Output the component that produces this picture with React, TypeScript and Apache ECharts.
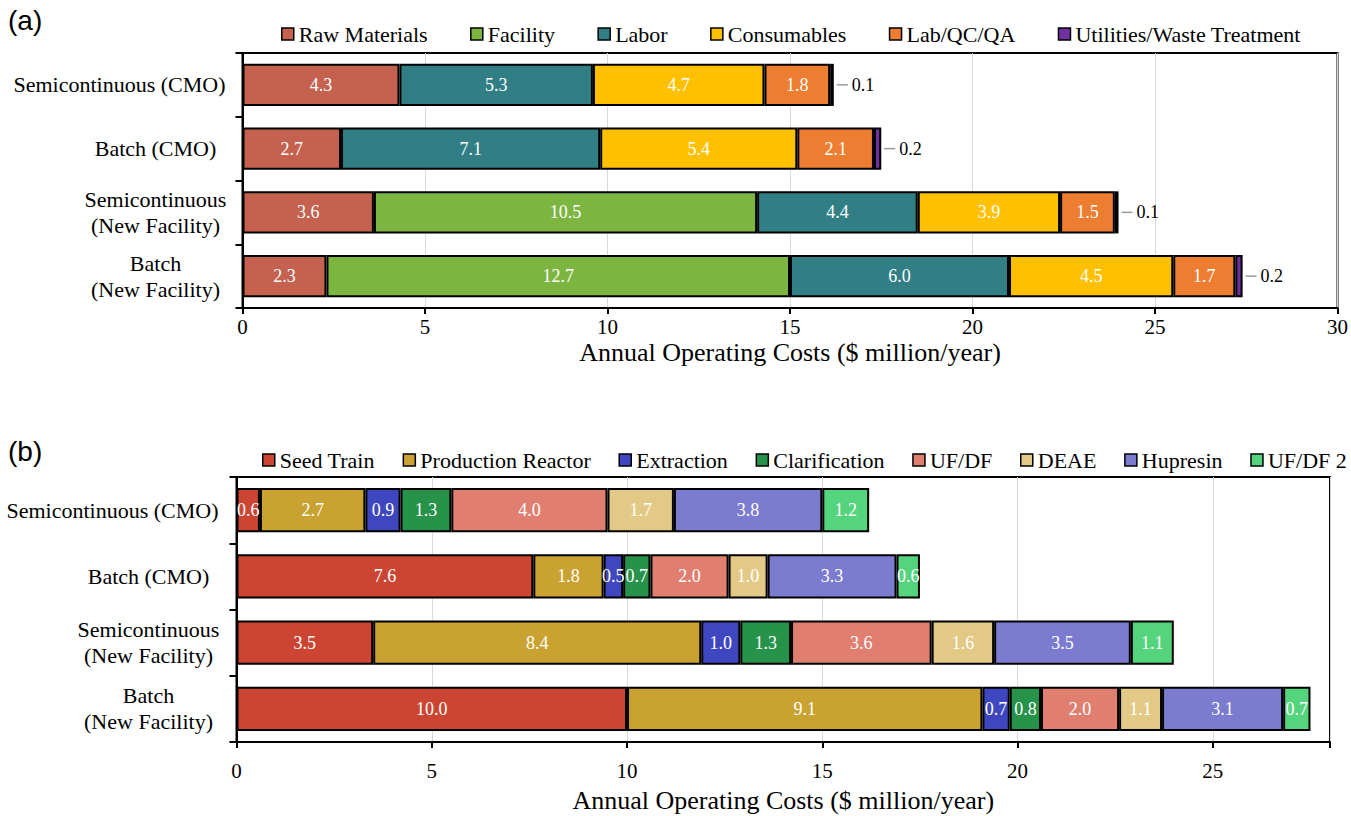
import React, { useEffect, useRef } from 'react';
import * as echarts from 'echarts';

const SERIF = '"Liberation Serif", "Times New Roman", serif';
const SANS = '"Liberation Sans", Arial, sans-serif';

// Shared category labels (top to bottom)
const categories = [
  'Semicontinuous (CMO)',
  'Batch (CMO)',
  'Semicontinuous\n(New Facility)',
  'Batch\n(New Facility)',
];

// Panel (a): cost categories ($ million/year)
const costNames = ['Raw Materials', 'Facility', 'Labor', 'Consumables', 'Lab/QC/QA', 'Utilities/Waste Treatment'];
const rawMaterials = [4.3, 2.7, 3.6, 2.3];
const facility = [null, null, 10.5, 12.7];
const labor = [5.3, 7.1, 4.4, 6.0];
const consumables = [4.7, 5.4, 3.9, 4.5];
const labQcQa = [1.8, 2.1, 1.5, 1.7];
const utilitiesWaste = [0.1, 0.2, 0.1, 0.2];
const costColors = ['#C5614F', '#7DB541', '#317F84', '#FFC000', '#ED7D31', '#7030A0'];

// Panel (b): process steps ($ million/year)
const stepNames = ['Seed Train', 'Production Reactor', 'Extraction', 'Clarification', 'UF/DF', 'DEAE', 'Hupresin', 'UF/DF 2'];
const seedTrain = [0.6, 7.6, 3.5, 10.0];
const productionReactor = [2.7, 1.8, 8.4, 9.1];
const extraction = [0.9, 0.5, 1.0, 0.7];
const clarification = [1.3, 0.7, 1.3, 0.8];
const ufdf = [4.0, 2.0, 3.6, 2.0];
const deae = [1.7, 1.0, 1.6, 1.1];
const hupresin = [3.8, 3.3, 3.5, 3.1];
const ufdf2 = [1.2, 0.6, 1.1, 0.7];
const stepColors = ['#CC4533', '#C9A232', '#3F47C0', '#27924A', '#E07F70', '#E3C986', '#7B7CD0', '#55D47E'];

const axisTicksA = { min: 0, max: 30, interval: 5 };
const axisTicksB = { min: 0, max: 28, interval: 5 };

const costData = [rawMaterials, facility, labor, consumables, labQcQa, utilitiesWaste];
const stepData = [seedTrain, productionReactor, extraction, clarification, ufdf, deae, hupresin, ufdf2];

const fmtVal = (p: any) => (p.value == null ? '' : Number(p.value).toFixed(1));

function makeBar(name: string, data: any[], color: string, stack: string, idx: number, gap: string, outside: boolean) {
  return {
    type: 'bar',
    name,
    data,
    stack,
    xAxisIndex: idx,
    yAxisIndex: idx,
    barCategoryGap: gap,
    itemStyle: { color, borderColor: '#000', borderWidth: 2 },
    emphasis: { disabled: true },
    label: outside
      ? {
          show: true,
          position: 'right',
          distance: 3,
          formatter: (p: any) => (p.value == null ? '' : `{l|}{v|${Number(p.value).toFixed(1)}}`),
          rich: {
            l: { width: 11, height: 1.5, backgroundColor: '#9a9a9a' },
            v: { color: '#000', fontFamily: SERIF, fontSize: 18, padding: [0, 0, 0, 4] },
          },
        }
      : {
          show: true,
          position: 'inside',
          color: '#fff',
          fontFamily: SERIF,
          fontSize: 18,
          formatter: fmtVal,
        },
  };
}

function catAxis(idx: number, margin: number, blockW: number) {
  return {
    type: 'category',
    gridIndex: idx,
    data: categories,
    inverse: true,
    axisLine: { show: true, lineStyle: { color: '#000', width: 2 } },
    axisTick: { show: true, length: 7, lineStyle: { color: '#000', width: 2 } },
    axisLabel: {
      margin,
      color: '#000',
      fontFamily: SERIF,
      fontSize: 22,
      lineHeight: 26,
      formatter: (v: string) =>
        v.includes('\n') || v.length < 14 ? v.split('\n').map((s) => `{c|${s}}`).join('\n') : v,
      rich: {
        c: { width: blockW, align: 'center', color: '#000', fontFamily: SERIF, fontSize: 22, lineHeight: 26 },
      },
    },
    splitLine: { show: false },
  };
}

function valAxis(idx: number, t: { min: number; max: number; interval: number }, labelMargin: number, nameGap: number) {
  return {
    type: 'value',
    gridIndex: idx,
    min: t.min,
    max: t.max,
    interval: t.interval,
    name: 'Annual Operating Costs ($ million/year)',
    nameLocation: 'middle',
    nameGap,
    nameTextStyle: { color: '#000', fontFamily: SERIF, fontSize: 26 },
    axisLine: { show: true, lineStyle: { color: '#000', width: 2 } },
    axisTick: { show: true, length: 6, lineStyle: { color: '#000', width: 2 } },
    axisLabel: {
      margin: labelMargin,
      color: '#000',
      fontFamily: SERIF,
      fontSize: 21,
      formatter: (v: number) => (v % t.interval === 0 ? String(v) : ''),
    },
    splitLine: { show: true, lineStyle: { color: '#d9d9d9', width: 1 } },
  };
}

export default function App() {
  const ref = useRef<HTMLDivElement>(null);
  useEffect(() => {
    if (!ref.current) return;
    const chart = echarts.init(ref.current, undefined, { renderer: 'svg' });
    const series: any[] = [];
    costNames.forEach((n, i) =>
      series.push(makeBar(n, costData[i], costColors[i], 'a', 0, '34%', i === costNames.length - 1))
    );
    stepNames.forEach((n, i) => series.push(makeBar(n, stepData[i], stepColors[i], 'b', 1, '33%', false)));

    const legendText = { color: '#000', fontFamily: SERIF, fontSize: 22 };
    chart.setOption({
      animation: false,
      backgroundColor: '#fff',
      grid: [
        { left: 242.5, right: 13, top: 53, height: 255, show: true, borderColor: '#000', borderWidth: 2, backgroundColor: 'transparent', containLabel: false },
        { left: 236.5, right: 21, top: 477, height: 265, show: true, borderColor: '#000', borderWidth: 2, backgroundColor: 'transparent', containLabel: false },
      ],
      legend: [
        {
          data: costNames,
          left: 281,
          top: 23,
          width: 1070,
          padding: 0,
          itemWidth: 12,
          itemHeight: 12,
          itemGap: 42.4,
          icon: 'rect',
          selectedMode: false,
          textStyle: legendText,
          itemStyle: { borderColor: '#000', borderWidth: 1.5 },
        },
        {
          data: stepNames,
          left: 262,
          top: 449,
          width: 1089,
          padding: 0,
          itemWidth: 12,
          itemHeight: 12,
          itemGap: 27.7,
          icon: 'rect',
          selectedMode: false,
          textStyle: legendText,
          itemStyle: { borderColor: '#000', borderWidth: 1.5 },
        },
      ],
      xAxis: [valAxis(0, axisTicksA, 8, 31), valAxis(1, axisTicksB, 18, 45)],
      yAxis: [catAxis(0, 17, 140), catAxis(1, 18, 140)],
      graphic: [
        { type: 'text', left: 8, top: 6, style: { text: '(a)', fill: '#000', font: `28px ${SANS}` } },
        { type: 'text', left: 8, top: 437, style: { text: '(b)', fill: '#000', font: `28px ${SANS}` } },
      ],
      series,
    });
    return () => chart.dispose();
  }, []);
  return <div ref={ref} style={{ position: 'absolute', left: 0, top: 0, width: 1351, height: 816 }} />;
}
